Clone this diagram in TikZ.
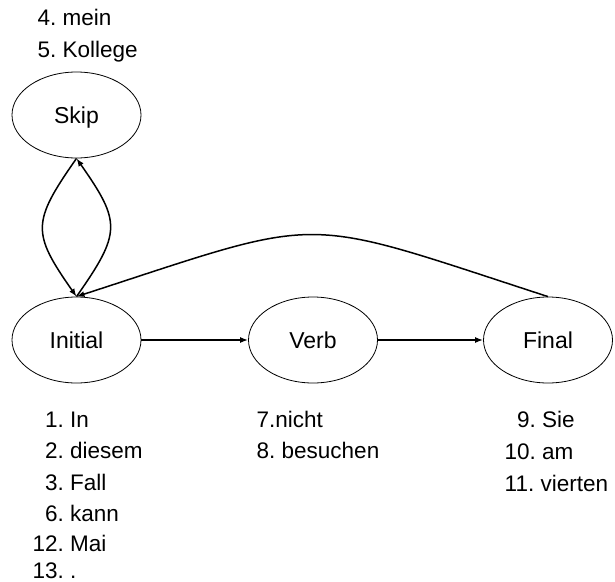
\documentclass[tikz,border=0pt]{standalone}
\usepackage{fontspec}
\setmainfont{Liberation Sans}
\frenchspacing
\usetikzlibrary{shapes.geometric,arrows.meta}
\begin{document}
\begin{tikzpicture}[x=1pt,y=-1pt,
  state/.style={draw,ellipse,line width=0.8pt,minimum width=129pt,minimum height=86pt,inner sep=0pt,
    font=\fontsize{23}{27}\selectfont,text height=16.5pt,text depth=0pt},
  lbl/.style={anchor=base west,inner sep=0pt,font=\fontsize{22.5}{27}\selectfont},
  conn/.style={line width=1.5pt,-{Latex[length=8pt,width=6pt]}}]
\useasboundingbox (0,0) rectangle (615,581);
\node[state] (Skip) at (76.5,115) {Skip};
\node[state] (Initial) at (76.5,340) {Initial};
\node[state] (Verb) at (313,340) {Verb};
\node[state] (Final) at (548,340) {Final};
% labels
\node[lbl] (l4) at (37.5,25) {4. mein};
\node[lbl] (l5) at (37.5,57) {5. Kollege};
\node[lbl] (l1) at (32.5,427) {\hphantom{0}1. In};
\node[lbl] (l2) at (32.5,458) {\hphantom{0}2. diesem};
\node[lbl] (l3) at (32.5,490) {\hphantom{0}3. Fall};
\node[lbl] (l6) at (32.5,521) {\hphantom{0}6. kann};
\node[lbl] (l12) at (32.5,551) {12. Mai};
\node[lbl,text depth=0pt] (l13) at (32.5,578) {13. .};
\node[lbl] (l7) at (256.5,427) {7.nicht};
\node[lbl] (l8) at (256.5,458) {8. besuchen};
\node[lbl] (l9) at (504.5,427) {\hphantom{0}9. Sie};
\node[lbl] (l10) at (504.5,459) {10. am};
\node[lbl] (l11) at (504.5,491) {11. vierten};
% connectors
\draw[conn] (Skip.south) to[out=235,in=125,looseness=1.45] (Initial.north);
\draw[conn] (Initial.north) to[out=55,in=305,looseness=1.45] (Skip.south);
\draw[conn] (Final.north) to[out=162,in=18,looseness=1.45] (Initial.north);
\draw[conn] (Initial.east) -- (Verb.west);
\draw[conn] (Verb.east) -- (Final.west);
\end{tikzpicture}
\end{document}
